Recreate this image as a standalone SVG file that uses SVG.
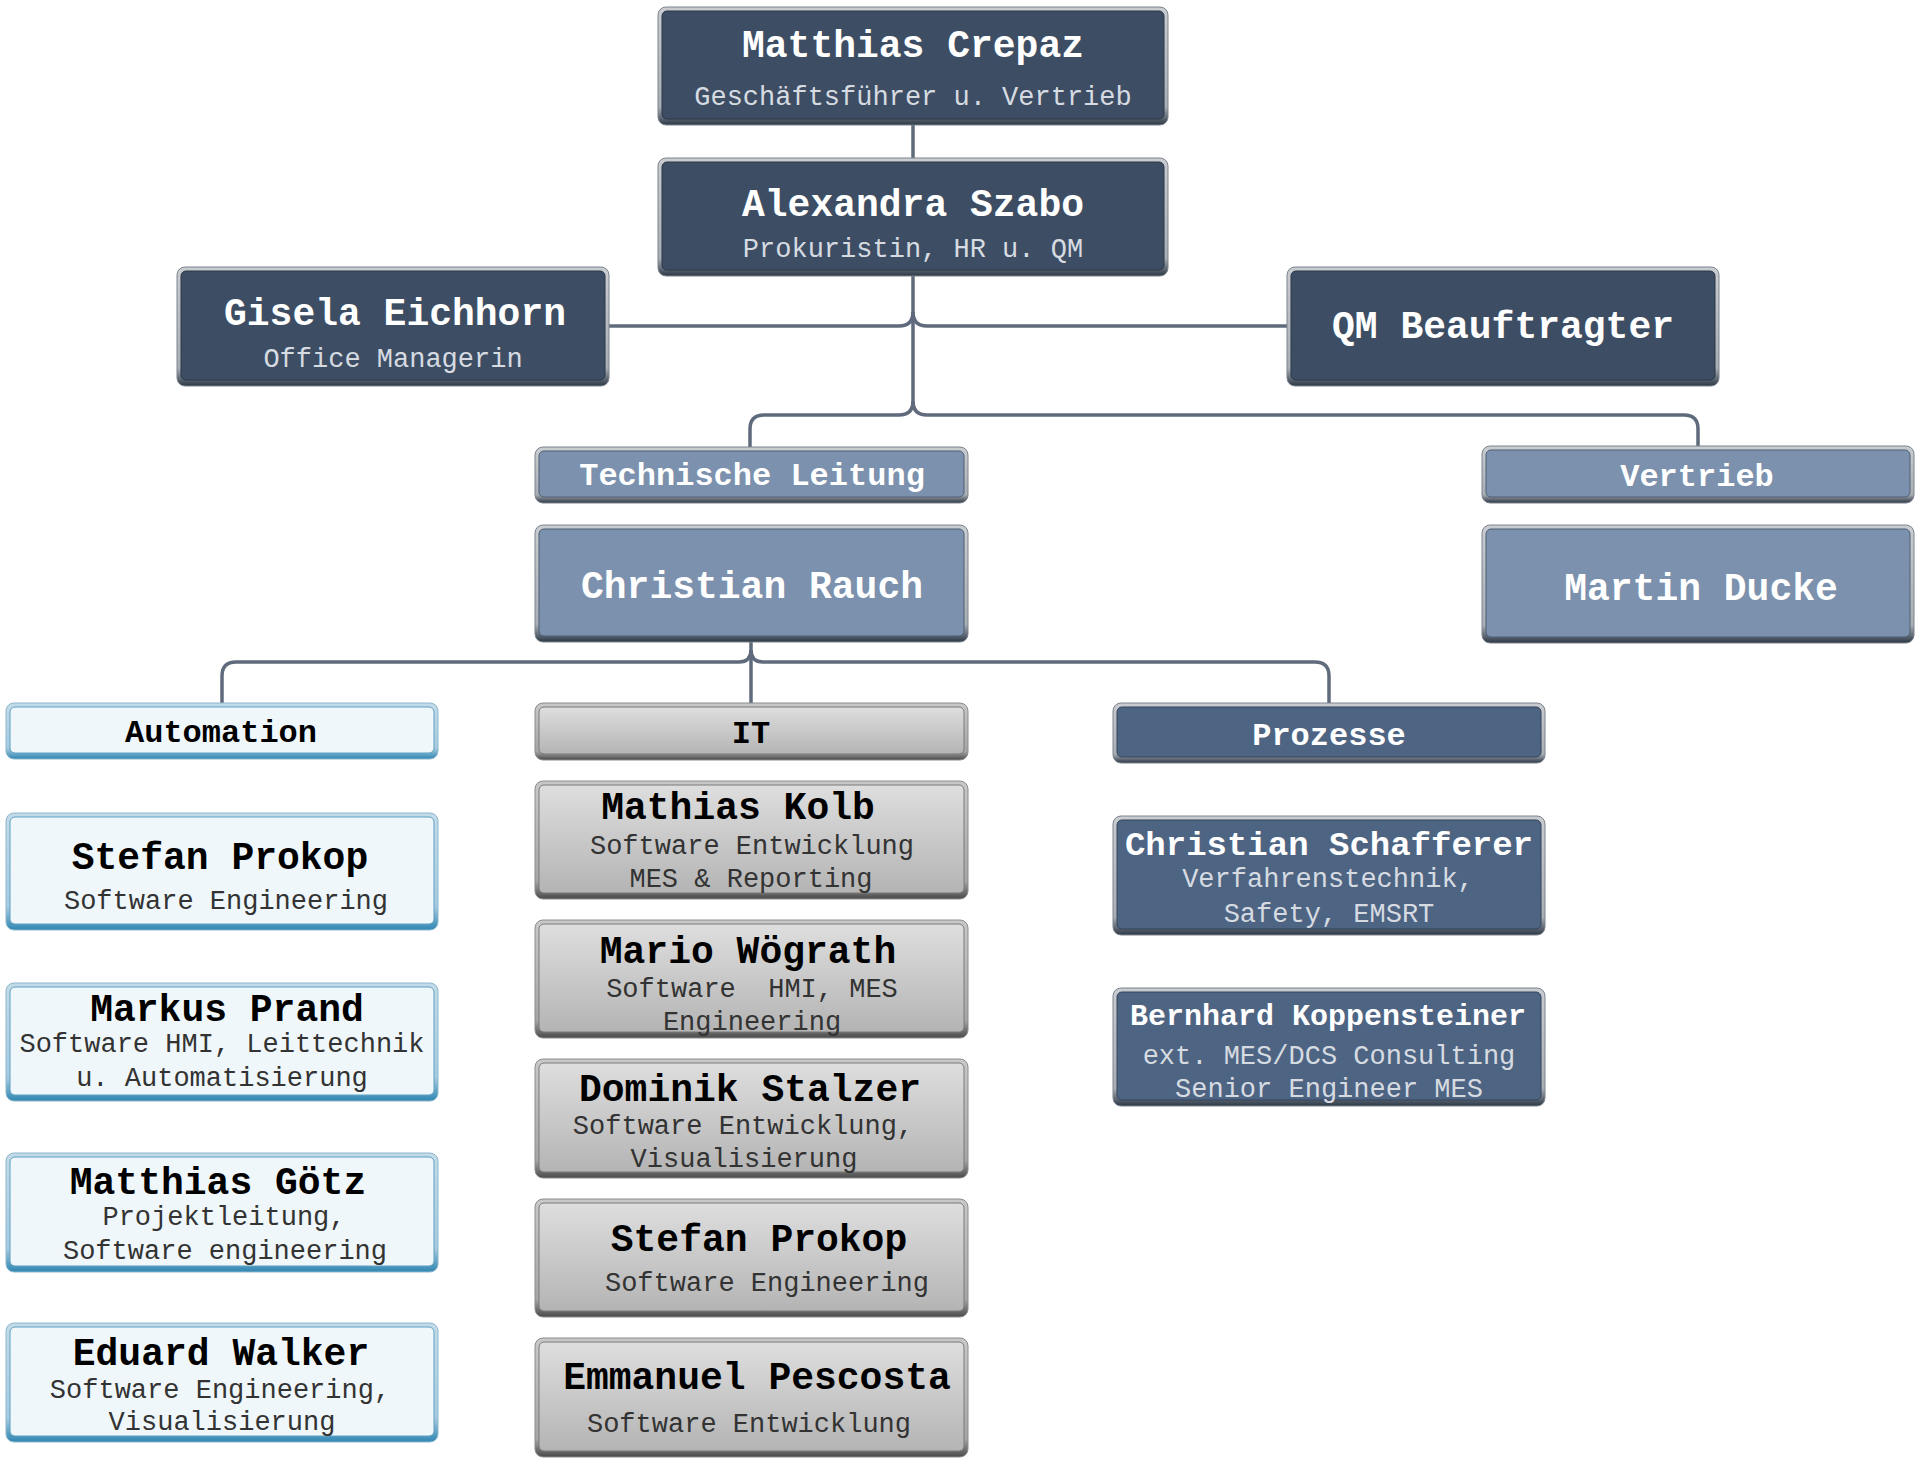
<svg xmlns="http://www.w3.org/2000/svg" width="1920" height="1463" viewBox="0 0 1920 1463">
<defs>
<linearGradient id="frDark" x1="0" y1="0" x2="0" y2="1">
<stop offset="0" stop-color="#c9ccd0"/><stop offset="0.85" stop-color="#a9aeb5"/><stop offset="1" stop-color="#2c3846"/>
</linearGradient>
<linearGradient id="frBlue" x1="0" y1="0" x2="0" y2="1">
<stop offset="0" stop-color="#c3dbe8"/><stop offset="0.8" stop-color="#a6cbe0"/><stop offset="1" stop-color="#2f86b2"/>
</linearGradient>
<linearGradient id="frGray" x1="0" y1="0" x2="0" y2="1">
<stop offset="0" stop-color="#c8c8c8"/><stop offset="0.85" stop-color="#a5a5a5"/><stop offset="1" stop-color="#4a4a4a"/>
</linearGradient>
<linearGradient id="fillGray" x1="0" y1="0" x2="0" y2="1">
<stop offset="0" stop-color="#dedede"/><stop offset="1" stop-color="#b4b4b4"/>
</linearGradient>
</defs>
<style>
.fr-d{fill:url(#frDark);stroke:#7d848d;stroke-width:1}
.fr-b{fill:url(#frBlue);stroke:#8fb6cc;stroke-width:1}
.fr-g{fill:url(#frGray);stroke:#8c8c8c;stroke-width:1}
.in-dark{fill:#3d4e64;stroke:#2a3646;stroke-width:1}
.in-mid{fill:#7b91ad;stroke:#4f5f74;stroke-width:1}
.in-proz{fill:#4e6483;stroke:#34445a;stroke-width:1}
.in-auto{fill:#eff7fa;stroke:#5e9fc2;stroke-width:1}
.in-it{fill:url(#fillGray);stroke:#7a7a7a;stroke-width:1}
text{font-family:"Liberation Mono","Courier New",monospace;text-anchor:middle}
.nm{font-weight:bold;font-size:38px}
.hd{font-weight:bold;font-size:32px}
.sb{font-size:27px}
.w{fill:#ffffff}
.ws{fill:#d6dbe1}
.k{fill:#000000}
.ks{fill:#333333}
.conn{fill:none;stroke:#5f6b7c;stroke-width:3.5}
</style>

<g id="connectors">
<path class="conn" d="M913 125 V158"/>
<path class="conn" d="M913 276 V401"/>
<path class="conn" d="M913 312 Q913 326 899 326 H609"/>
<path class="conn" d="M913 312 Q913 326 927 326 H1287"/>
<path class="conn" d="M913 401 Q913 415 899 415 H764 Q750 415 750 429 V447"/>
<path class="conn" d="M913 401 Q913 415 927 415 H1684 Q1698 415 1698 429 V446"/>
<path class="conn" d="M751 642 V703"/>
<path class="conn" d="M751 650 Q751 662 739 662 H236 Q222 662 222 676 V703"/>
<path class="conn" d="M751 650 Q751 662 763 662 H1315 Q1329 662 1329 676 V703"/>
</g>

<g id="n-crepaz">
<rect class="fr-d" x="658" y="7" width="510" height="118" rx="8"/>
<rect class="in-dark" x="662" y="11" width="502" height="108" rx="5"/>
<text class="nm w" x="913" y="57">Matthias Crepaz</text>
<text class="sb ws" x="913" y="105">Geschäftsführer u. Vertrieb</text>
</g>
<g id="n-szabo">
<rect class="fr-d" x="658" y="158" width="510" height="118" rx="8"/>
<rect class="in-dark" x="662" y="162" width="502" height="108" rx="5"/>
<text class="nm w" x="913" y="216">Alexandra Szabo</text>
<text class="sb ws" x="913" y="257">Prokuristin, HR u. QM</text>
</g>
<g id="n-gisela">
<rect class="fr-d" x="177" y="267" width="432" height="119" rx="8"/>
<rect class="in-dark" x="181" y="271" width="424" height="109" rx="5"/>
<text class="nm w" x="395" y="325">Gisela Eichhorn</text>
<text class="sb ws" x="393" y="367">Office Managerin</text>
</g>
<g id="n-qm">
<rect class="fr-d" x="1287" y="267" width="432" height="119" rx="8"/>
<rect class="in-dark" x="1291" y="271" width="424" height="109" rx="5"/>
<text class="nm w" x="1503" y="338">QM Beauftragter</text>
</g>
<g id="n-tl">
<rect class="fr-d" x="535" y="447" width="433" height="56" rx="8"/>
<rect class="in-mid" x="539" y="451" width="425" height="46" rx="5"/>
<text class="hd w" x="752" y="485">Technische Leitung</text>
</g>
<g id="n-rauch">
<rect class="fr-d" x="535" y="525" width="433" height="117" rx="8"/>
<rect class="in-mid" x="539" y="529" width="425" height="107" rx="5"/>
<text class="nm w" x="752" y="598">Christian Rauch</text>
</g>
<g id="n-vertrieb">
<rect class="fr-d" x="1482" y="446" width="432" height="57" rx="8"/>
<rect class="in-mid" x="1486" y="450" width="424" height="47" rx="5"/>
<text class="hd w" x="1697" y="486">Vertrieb</text>
</g>
<g id="n-ducke">
<rect class="fr-d" x="1482" y="525" width="432" height="118" rx="8"/>
<rect class="in-mid" x="1486" y="529" width="424" height="108" rx="5"/>
<text class="nm w" x="1701" y="600">Martin Ducke</text>
</g>

<g id="n-automation">
<rect class="fr-b" x="6" y="703" width="432" height="56" rx="8"/>
<rect class="in-auto" x="10" y="707" width="424" height="46" rx="5"/>
<text class="hd k" x="221" y="742">Automation</text>
</g>
<g id="n-prokop-a">
<rect class="fr-b" x="6" y="813" width="432" height="117" rx="8"/>
<rect class="in-auto" x="10" y="817" width="424" height="107" rx="5"/>
<text class="nm k" x="220" y="869">Stefan Prokop</text>
<text class="sb ks" x="226" y="909">Software Engineering</text>
</g>
<g id="n-prand">
<rect class="fr-b" x="6" y="983" width="432" height="118" rx="8"/>
<rect class="in-auto" x="10" y="987" width="424" height="108" rx="5"/>
<text class="nm k" x="227" y="1021">Markus Prand</text>
<text class="sb ks" x="222" y="1052">Software HMI, Leittechnik</text>
<text class="sb ks" x="222" y="1086">u. Automatisierung</text>
</g>
<g id="n-goetz">
<rect class="fr-b" x="6" y="1153" width="432" height="119" rx="8"/>
<rect class="in-auto" x="10" y="1157" width="424" height="109" rx="5"/>
<text class="nm k" x="218" y="1194">Matthias Götz</text>
<text class="sb ks" x="224" y="1225">Projektleitung,</text>
<text class="sb ks" x="225" y="1259">Software engineering</text>
</g>
<g id="n-walker">
<rect class="fr-b" x="6" y="1323" width="432" height="119" rx="8"/>
<rect class="in-auto" x="10" y="1327" width="424" height="109" rx="5"/>
<text class="nm k" x="221" y="1365">Eduard Walker</text>
<text class="sb ks" x="220" y="1398">Software Engineering,</text>
<text class="sb ks" x="222" y="1430">Visualisierung</text>
</g>

<g id="n-it">
<rect class="fr-g" x="535" y="703" width="433" height="57" rx="8"/>
<rect class="in-it" x="539" y="707" width="425" height="47" rx="5"/>
<text class="hd k" x="751" y="743">IT</text>
</g>
<g id="n-kolb">
<rect class="fr-g" x="535" y="781" width="433" height="118" rx="8"/>
<rect class="in-it" x="539" y="785" width="425" height="108" rx="5"/>
<text class="nm k" x="738" y="819">Mathias Kolb</text>
<text class="sb ks" x="752" y="854">Software Entwicklung</text>
<text class="sb ks" x="751" y="887">MES &amp; Reporting</text>
</g>
<g id="n-woegrath">
<rect class="fr-g" x="535" y="920" width="433" height="118" rx="8"/>
<rect class="in-it" x="539" y="924" width="425" height="108" rx="5"/>
<text class="nm k" x="748" y="963">Mario Wögrath</text>
<text class="sb ks" x="752" y="997" xml:space="preserve">Software  HMI, MES</text>
<text class="sb ks" x="752" y="1030">Engineering</text>
</g>
<g id="n-stalzer">
<rect class="fr-g" x="535" y="1059" width="433" height="119" rx="8"/>
<rect class="in-it" x="539" y="1063" width="425" height="109" rx="5"/>
<text class="nm k" x="750" y="1101">Dominik Stalzer</text>
<text class="sb ks" x="743" y="1134">Software Entwicklung,</text>
<text class="sb ks" x="744" y="1167">Visualisierung</text>
</g>
<g id="n-prokop-it">
<rect class="fr-g" x="535" y="1199" width="433" height="118" rx="8"/>
<rect class="in-it" x="539" y="1203" width="425" height="108" rx="5"/>
<text class="nm k" x="759" y="1251">Stefan Prokop</text>
<text class="sb ks" x="767" y="1291">Software Engineering</text>
</g>
<g id="n-pescosta">
<rect class="fr-g" x="535" y="1338" width="433" height="119" rx="8"/>
<rect class="in-it" x="539" y="1342" width="425" height="109" rx="5"/>
<text class="nm k" x="757" y="1389">Emmanuel Pescosta</text>
<text class="sb ks" x="749" y="1432">Software Entwicklung</text>
</g>

<g id="n-prozesse">
<rect class="fr-d" x="1113" y="703" width="432" height="60" rx="8"/>
<rect class="in-proz" x="1117" y="707" width="424" height="50" rx="5"/>
<text class="hd w" x="1329" y="745">Prozesse</text>
</g>
<g id="n-schafferer">
<rect class="fr-d" x="1113" y="816" width="432" height="119" rx="8"/>
<rect class="in-proz" x="1117" y="820" width="424" height="109" rx="5"/>
<text class="w" x="1329" y="855" style="font-weight:bold;font-size:34px">Christian Schafferer</text>
<text class="sb ws" x="1328" y="887">Verfahrenstechnik,</text>
<text class="sb ws" x="1329" y="922">Safety, EMSRT</text>
</g>
<g id="n-koppensteiner">
<rect class="fr-d" x="1113" y="988" width="432" height="118" rx="8"/>
<rect class="in-proz" x="1117" y="992" width="424" height="108" rx="5"/>
<text class="w" x="1328" y="1025" style="font-weight:bold;font-size:30px">Bernhard Koppensteiner</text>
<text class="sb ws" x="1329" y="1064">ext. MES/DCS Consulting</text>
<text class="sb ws" x="1329" y="1097">Senior Engineer MES</text>
</g>
</svg>
